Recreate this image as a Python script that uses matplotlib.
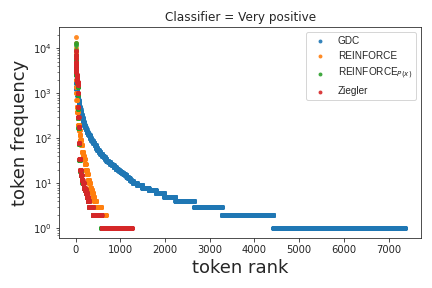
import numpy as np
import matplotlib
matplotlib.use("Agg")
import matplotlib.pyplot as plt
import seaborn as sns

# ---- data: token frequency levels and number of tokens at each level ----
gdc_freq = [6000, 4000, 3000, 2500, 2000, 1700, 1400, 1250, 1100, 1000, 900, 800,
            710, 600, 500, 440, 380, 330, 280, 231, 200, 180, 160, 140, 125, 115,
            100, 92, 86, 78, 70, 62, 56, 50, 45, 41, 38, 35, 32, 29, 27, 25, 23,
            21, 20, 19, 18, 17, 16, 15, 14, 13, 12, 11, 10, 9, 8, 7, 6, 5, 4, 3, 2, 1]
gdc_count = [1, 2, 2, 1, 3, 3, 4, 4, 8, 7, 10, 11,
             10, 14, 15, 15, 18, 17, 19, 20, 18, 20, 22, 24, 24, 25,
             25, 25, 25, 30, 30, 30, 35, 35, 40, 35, 30, 32, 40, 40, 40, 43, 45,
             45, 30, 30, 30, 35, 35, 35, 35, 35, 35, 40, 90, 120, 140, 160, 190, 250, 420, 620, 1150, 2940]

reinforce_freq = [18000, 13000, 10000, 8000, 6500, 5000, 4000, 3000, 2000, 1400, 1000,
                  710, 500, 380, 280, 200, 150, 120, 93, 70, 50, 40, 34, 27, 20, 16,
                  12, 10, 8, 7, 6, 5, 4, 3, 2, 1]
reinforce_count = [1, 1, 1, 1, 2, 2, 2, 3, 2, 2, 2,
                   5, 10, 10, 15, 15, 15, 15, 20, 20, 20, 20, 20, 20, 25, 25,
                   25, 25, 25, 20, 20, 25, 45, 110, 105, 335]

reinforce_px_freq = [13000, 11500, 9000, 7000, 5500, 4000, 3500, 3000, 2600, 2300,
                     2000, 1700, 1400, 900, 450, 280, 170, 75, 33, 19, 15, 12, 10,
                     8, 7, 6, 5, 4, 3, 2, 1]
reinforce_px_count = [1, 1, 1, 2, 2, 3, 3, 4, 5, 5,
                      8, 7, 5, 5, 5, 5, 10, 10, 15, 15, 20, 20, 25,
                      25, 25, 20, 20, 30, 85, 190, 640]

ziegler_freq = [8800, 7000, 6000, 5000, 4500, 4000, 3500, 3000, 2600, 2300, 2100,
                1800, 1500, 1000, 500, 300, 180, 80, 35, 20, 15, 12, 10, 8, 7, 6,
                5, 4, 3, 2, 1]
ziegler_count = [2, 2, 2, 2, 2, 3, 3, 4, 5, 5, 8,
                 7, 5, 5, 5, 5, 10, 10, 15, 15, 20, 20, 25, 25, 25, 20,
                 20, 30, 85, 195, 675]

series = [
    ("GDC", gdc_freq, gdc_count, "#1f77b4"),
    ("REINFORCE", reinforce_freq, reinforce_count, "#ff7f0e"),
    ("REINFORCE$_{P(x)}$", reinforce_px_freq, reinforce_px_count, "#2ca02c"),
    ("Ziegler", ziegler_freq, ziegler_count, "#d62728"),
]

sns.set_style("ticks")
plt.rcParams["font.family"] = ["DejaVu Sans"]

fig = plt.figure(figsize=(6, 4), dpi=72)
ax = fig.add_axes([0.137, 0.174, 0.838, 0.732])

for label, freq, count, color in series:
    f = np.repeat(np.array(freq, dtype=float), count)
    r = np.arange(len(f))
    ax.scatter(r, f, s=24, color=color, linewidths=0, alpha=0.9, label=label)

ax.set_yscale("log")
ax.set_xticks([0, 1000, 2000, 3000, 4000, 5000, 6000, 7000])
ax.tick_params(labelsize=10)
ax.set_xlabel("token rank", fontsize=18)
ax.set_ylabel("token frequency", fontsize=18)
ax.set_title("Classifier = Very positive", fontsize=12)
leg = ax.legend(loc="upper right", prop={"family": "Liberation Sans", "size": 10},
                markerscale=0.8)

fig.savefig("out.png", dpi=72)
